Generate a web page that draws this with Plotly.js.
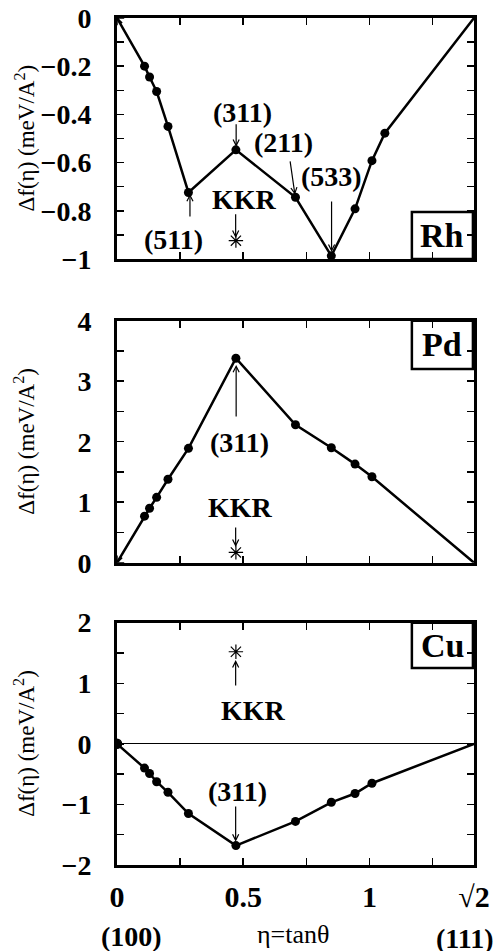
<!DOCTYPE html>
<html>
<head>
<meta charset="utf-8">
<script src="https://cdn.plot.ly/plotly-3.0.1.min.js"></script>
<style>html,body{margin:0;padding:0;background:#fff;}#chart{width:501px;height:951px;}</style>
</head>
<body>
<div id="chart"></div>
<script>
// ---- data ----
const etaRh = [0, 0.109, 0.129, 0.157, 0.202, 0.283, 0.471, 0.707, 0.849, 0.943, 1.010, 1.061, 1.4142];
const dfRh  = [0, -0.20, -0.245, -0.305, -0.45, -0.724, -0.547, -0.744, -0.987, -0.792, -0.592, -0.478, 0];
const etaPd = [0, 0.109, 0.129, 0.157, 0.202, 0.283, 0.471, 0.707, 0.849, 0.943, 1.010, 1.4142];
const dfPd  = [0, 0.77, 0.90, 1.08, 1.38, 1.89, 3.38, 2.28, 1.90, 1.63, 1.42, 0];
const etaCu = [0, 0.109, 0.129, 0.157, 0.202, 0.283, 0.471, 0.707, 0.849, 0.943, 1.010, 1.4142];
const dfCu  = [0, -0.40, -0.49, -0.625, -0.80, -1.15, -1.68, -1.28, -0.965, -0.82, -0.65, 0];
const kkrEta = 0.471;
const kkrRh = -0.924, kkrPd = 0.17, kkrCu = 1.52;
const xTickVals = [0, 0.25, 0.5, 0.75, 1, 1.25, 1.4142];
const xTickText = ['0', '', '0.5', '', '1', '', '√2'];
const yTickRh = [-1, -0.9, -0.8, -0.7, -0.6, -0.5, -0.4, -0.3, -0.2, -0.1, 0];
const yTextRh = ['−1', '', '−0.8', '', '−0.6', '', '−0.4', '', '−0.2', '', '0'];
const yTickPd = [0, 0.5, 1, 1.5, 2, 2.5, 3, 3.5, 4];
const yTextPd = ['0', '', '1', '', '2', '', '3', '', '4'];
const yTickCu = [-2, -1.5, -1, -0.5, 0, 0.5, 1, 1.5, 2];
const yTextCu = ['−2', '', '−1', '', '0', '', '1', '', '2'];

const F = 'Liberation Serif, Times New Roman, serif';
const BLK = '#000';

function panel(xa, ya, eta, df, kkr, originSymbol) {
  return [
    {x: eta, y: df, xaxis: xa, yaxis: ya, mode: 'lines', line: {color: BLK, width: 2.5}, hoverinfo: 'skip'},
    {x: eta.slice(1, -1), y: df.slice(1, -1), xaxis: xa, yaxis: ya, mode: 'markers',
     marker: {symbol: 'circle', size: 9, color: BLK}},
    {x: eta.slice(0, 1), y: df.slice(0, 1), xaxis: xa, yaxis: ya, mode: 'markers',
     marker: {symbol: originSymbol, size: originSymbol === 'circle' ? 9 : 12, color: BLK, line: {color: BLK, width: 1.5}}},
    {x: [kkrEta], y: [kkr], xaxis: xa, yaxis: ya, mode: 'markers',
     marker: {symbol: 'asterisk-open', size: 12, color: BLK, line: {color: BLK, width: 1.2}}}
  ];
}

const data = [].concat(
  panel('x3', 'y3', etaRh, dfRh, kkrRh, 'asterisk-open'),
  panel('x2', 'y2', etaPd, dfPd, kkrPd, 'asterisk-open'),
  panel('x', 'y', etaCu, dfCu, kkrCu, 'circle')
);

const tickFont = {family: F, size: 28, color: BLK, weight: 'bold'};
const xTickFont = {family: F, size: 30, color: BLK, weight: 'bold'};
function xAxis(anchor, labels) {
  return {
    anchor: anchor, range: [0, 1.4142], tickmode: 'array', tickvals: xTickVals,
    ticktext: labels ? xTickText : xTickVals.map(() => ''),
    ticks: 'inside', ticklen: 7, tickwidth: 1.5, tickcolor: BLK,
    showline: true, linewidth: 3, linecolor: BLK, mirror: 'allticks',
    showgrid: false, zeroline: false, fixedrange: true,
    tickfont: xTickFont, ticklabelstandoff: 3
  };
}
function yAxis(anchor, dom, range, vals, text, zl) {
  return {
    anchor: anchor, domain: dom, range: range, tickmode: 'array', tickvals: vals, ticktext: text,
    ticks: 'inside', ticklen: 7, tickwidth: 1.5, tickcolor: BLK,
    showline: true, linewidth: 3, linecolor: BLK, mirror: 'allticks',
    showgrid: false, zeroline: !!zl, zerolinewidth: 1, zerolinecolor: BLK, fixedrange: true,
    tickfont: tickFont, ticklabelstandoff: 17
  };
}

const bold = {family: F, size: 28, color: BLK, weight: 'bold'};
function txt(xr, yr, x, y, t, font) {
  return {xref: xr, yref: yr, x: x, y: y, text: t, showarrow: false, font: font || bold, xanchor: 'center', yanchor: 'middle'};
}
function arr(xr, yr, x, y, ax, ay) {
  return {xref: xr, yref: yr, x: x, y: y, axref: xr, ayref: yr, ax: ax, ay: ay, text: '',
    showarrow: true, arrowhead: 5, arrowsize: 1, arrowwidth: 1.2, arrowcolor: BLK, standoff: 0, startstandoff: 0};
}
const boxFont = {family: F, size: 34, color: BLK, weight: 'bold'};
const titleFont = {family: F, size: 23, color: BLK};
const xTitleFont = {family: F, size: 26, color: BLK};
const yTitle = 'Δf(η) (meV/A<sup>2</sup>)';
function yTitleAnn(yr) {
  return {xref: 'paper', yref: yr, x: -0.2577, y: 0.5, text: yTitle, textangle: -90, showarrow: false,
    font: titleFont, xanchor: 'center', yanchor: 'middle'};
}

const annotations = [
  // Rh
  txt('x3', 'y3', 0.499, -0.394, '(311)'), arr('x3', 'y3', 0.472, -0.535, 0.472, -0.435),
  txt('x3', 'y3', 0.661, -0.518, '(211)'), arr('x3', 'y3', 0.705, -0.734, 0.685, -0.589),
  txt('x3', 'y3', 0.848, -0.659, '(533)'), arr('x3', 'y3', 0.850, -0.971, 0.850, -0.755),
  txt('x3', 'y3', 0.222, -0.921, '(511)'), arr('x3', 'y3', 0.289, -0.730, 0.289, -0.830),
  txt('x3', 'y3', 0.506, -0.755, 'KKR'), arr('x3', 'y3', 0.470, -0.913, 0.470, -0.808),
  txt('x3 domain', 'y3 domain', 0.911, 0.0975, 'Rh', boxFont),
  // Pd
  txt('x2', 'y2', 0.487, 1.98, '(311)'), arr('x2', 'y2', 0.472, 3.27, 0.472, 2.39),
  txt('x2', 'y2', 0.491, 0.92, 'KKR'), arr('x2', 'y2', 0.470, 0.26, 0.470, 0.607),
  txt('x2 domain', 'y2 domain', 0.911, 0.90, 'Pd', boxFont),
  // Cu
  txt('x', 'y', 0.539, 0.558, 'KKR'), arr('x', 'y', 0.470, 1.383, 0.470, 0.937),
  txt('x', 'y', 0.479, -0.79, '(311)'), arr('x', 'y', 0.470, -1.615, 0.470, -1.01),
  txt('x domain', 'y domain', 0.912, 0.906, 'Cu', boxFont),
  // y titles
  yTitleAnn('y3 domain'), yTitleAnn('y2 domain'), yTitleAnn('y domain'),
  // bottom labels
  txt('paper', 'paper', 0.040, -0.0850, '(100)'),
  txt('paper', 'paper', 0.493, -0.0815, 'η=tanθ', xTitleFont),
  txt('paper', 'paper', 0.975, -0.0870, '(111)')
];

function box(xr, yr, y0, y1) {
  return {type: 'rect', xref: xr, yref: yr, x0: 0.826, x1: 0.997, y0: y0, y1: y1,
    line: {color: BLK, width: 2.5}, fillcolor: 'rgba(255,255,255,0)', layer: 'above'};
}

const layout = {
  width: 501, height: 951,
  margin: {l: 117, r: 27, t: 18, b: 86},
  paper_bgcolor: '#fff', plot_bgcolor: '#fff',
  showlegend: false,
  font: {family: F, color: BLK},
  xaxis: xAxis('y', true),
  xaxis2: xAxis('y2', false),
  xaxis3: xAxis('y3', false),
  yaxis: yAxis('x', [0, 0.2861], [-2, 2], yTickCu, yTextCu, true),
  yaxis2: yAxis('x2', [0.3569, 0.6426], [0, 4], yTickPd, yTextPd),
  yaxis3: yAxis('x3', [0.7155, 1], [-1, 0], yTickRh, yTextRh),
  annotations: annotations,
  shapes: [
    box('x3 domain', 'y3 domain', 0, 0.195),
    box('x2 domain', 'y2 domain', 0.80, 1),
    box('x domain', 'y domain', 0.813, 1)
  ]
};

Plotly.newPlot('chart', data, layout, {staticPlot: true, displayModeBar: false});
</script>
</body>
</html>
